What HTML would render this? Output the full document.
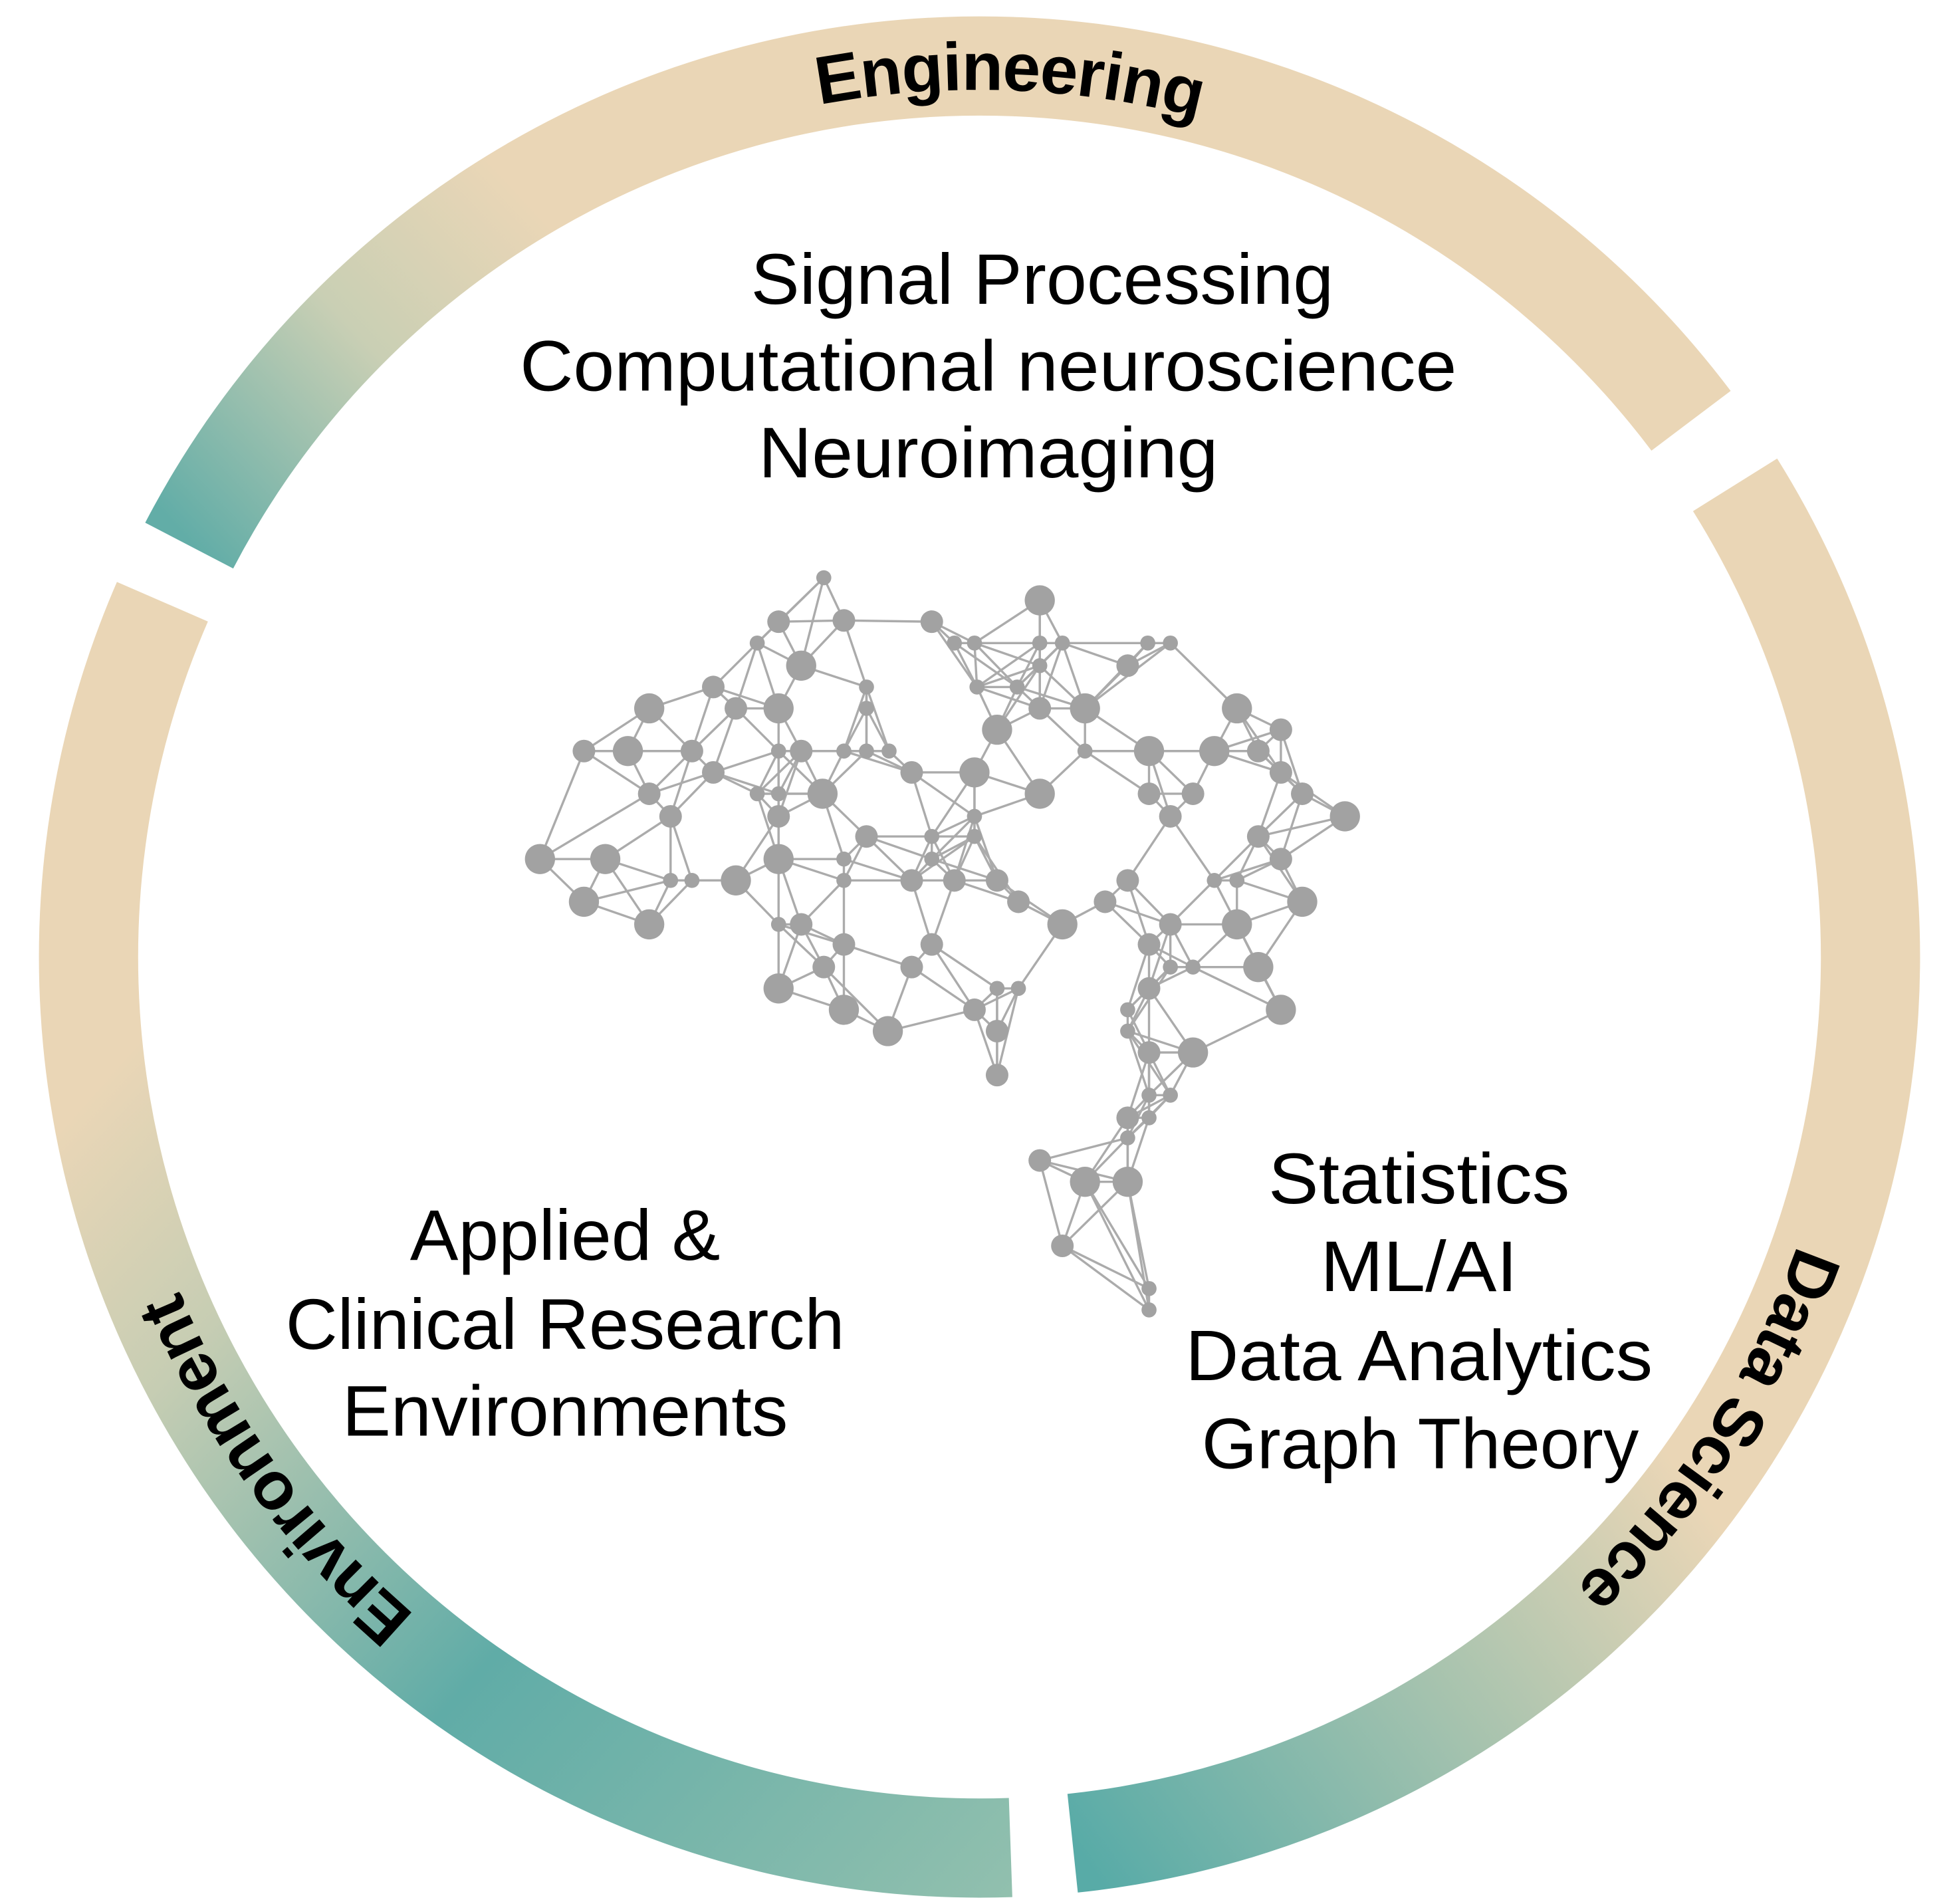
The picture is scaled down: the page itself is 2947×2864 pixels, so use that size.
<!DOCTYPE html>
<html><head><meta charset="utf-8"><style>
html,body{margin:0;padding:0;background:#fff;}
svg{display:block;}
</style></head><body>
<svg id="chart" xmlns="http://www.w3.org/2000/svg" width="2947" height="2864" viewBox="0 0 1560 1516">
<defs>
<linearGradient id="gEng" gradientUnits="userSpaceOnUse" x1="150" y1="430" x2="430" y2="170">
<stop offset="0" stop-color="#62ada7"/><stop offset="0.55" stop-color="#c9cfb4"/><stop offset="1" stop-color="#ead6b6"/></linearGradient>
<linearGradient id="gDS" gradientUnits="userSpaceOnUse" x1="1330" y1="1160" x2="870" y2="1490">
<stop offset="0" stop-color="#ead6b6"/><stop offset="0.4" stop-color="#aec5af"/><stop offset="1" stop-color="#58aba7"/></linearGradient>
<linearGradient id="gEnv" gradientUnits="userSpaceOnUse" x1="90" y1="850" x2="820" y2="1500">
<stop offset="0" stop-color="#ead6b6"/><stop offset="0.2" stop-color="#c6cdb3"/><stop offset="0.55" stop-color="#60aca7"/><stop offset="1" stop-color="#92c0ae"/></linearGradient>
</defs>
<g id="ring"></g>
<g id="network"></g>
<g font-family="Liberation Sans, sans-serif" font-size="57" fill="#000" text-anchor="middle">
<text x="830" y="242" textLength="464" lengthAdjust="spacingAndGlyphs">Signal Processing</text>
<text x="787" y="311" textLength="746" lengthAdjust="spacingAndGlyphs">Computational neuroscience</text>
<text x="787" y="380" textLength="366" lengthAdjust="spacingAndGlyphs">Neuroimaging</text>
<text x="1130" y="958" textLength="240" lengthAdjust="spacingAndGlyphs">Statistics</text>
<text x="1130" y="1028" textLength="157" lengthAdjust="spacingAndGlyphs">ML/AI</text>
<text x="1130" y="1099" textLength="372" lengthAdjust="spacingAndGlyphs">Data Analytics</text>
<text x="1131" y="1169" textLength="348" lengthAdjust="spacingAndGlyphs">Graph Theory</text>
<text x="450" y="1003" textLength="247" lengthAdjust="spacingAndGlyphs">Applied &amp;</text>
<text x="450" y="1074" textLength="445" lengthAdjust="spacingAndGlyphs">Clinical Research</text>
<text x="450" y="1143" textLength="355" lengthAdjust="spacingAndGlyphs">Environments</text>
</g>
</svg>
<script>
const NS='http://www.w3.org/2000/svg';
const segNames=['engineering','data-science','environment'];
const segStart=[207.5,328,88];
const segEnd=[323,444,203.5];
const segFill=['url(#gEng)','url(#gDS)','url(#gEnv)'];
const labelText=['Engineering','Data Science','Environment'];
const labelAngle=[272,33,144];
const cx=780,cy=762,Ro=749,Ri=670,Rm=709;
function pt(r,a){const t=a*Math.PI/180;return [cx+r*Math.cos(t),cy+r*Math.sin(t)];}
const ring=document.getElementById('ring');
for(let i=0;i<3;i++){
  const a0=segStart[i],a1=segEnd[i];const large=(a1-a0)>180?1:0;
  const p0=pt(Ro,a0),p1=pt(Ro,a1),p2=pt(Ri,a1),p3=pt(Ri,a0);
  const p=document.createElementNS(NS,'path');
  p.setAttribute('d',`M${p0} A${Ro},${Ro} 0 ${large} 1 ${p1} L${p2} A${Ri},${Ri} 0 ${large} 0 ${p3} Z`);
  p.setAttribute('fill',segFill[i]);
  
  
  ring.appendChild(p);
  const la=labelAngle[i];const q0=pt(Rm,la-60),q1=pt(Rm,la+60);
  const tp=document.createElementNS(NS,'path');
  tp.setAttribute('id','tp'+i);tp.setAttribute('fill','none');
  tp.setAttribute('d',`M${q0} A${Rm},${Rm} 0 0 1 ${q1}`);
  ring.appendChild(tp);
  const t=document.createElementNS(NS,'text');
  t.setAttribute('font-family','Liberation Sans, sans-serif');
  t.setAttribute('font-weight','bold');t.setAttribute('font-size','54');
  t.setAttribute('dominant-baseline','central');
  
  
  const tpath=document.createElementNS(NS,'textPath');
  tpath.setAttribute('href','#tp'+i);tpath.setAttribute('startOffset','50%');tpath.setAttribute('text-anchor','middle');
  tpath.textContent=labelText[i];t.appendChild(tpath);ring.appendChild(t);
}
// network nodes: x, y, size class (0 small,1 medium,2 large)
const nodeX=[656,828,620,672,742,603,638,760,776,828,846,914,932,690,778,810,828,898,568,517,586,620,690,828,864,985,794,1020,465,500,551,620,638,672,690,708,864,915,967,1002,568,726,776,1020,603,620,655,828,915,950,1037,517,534,620,776,932,1071,690,742,776,1002,430,482,620,672,742,1020,534,551,586,672,726,760,794,898,967,985,465,811,880,1037,517,620,638,846,932,985,672,742,915,656,726,932,950,1002,620,794,811,915,672,776,898,1020,707,794,898,915,950,794,915,932,898,915,898,828,864,898,846,915,915];
const nodeY=[460,478,495,494,495,512,530,512,512,512,512,512,512,547,547,547,530,530,547,564,564,564,564,564,564,564,581,581,598,598,598,598,598,598,598,598,598,598,598,598,615,615,615,615,632,632,632,632,632,632,632,632,650,650,650,650,650,666,666,666,666,684,684,684,684,684,684,701,701,701,701,701,701,701,701,701,701,718,718,718,718,736,736,736,736,736,736,752,752,752,770,770,770,770,770,787,787,787,787,804,804,804,804,821,821,821,838,838,856,872,872,890,890,906,924,941,941,992,1026,1043];
const nodeS=[0,2,1,1,1,0,2,0,0,0,0,0,0,0,0,0,0,1,1,2,1,2,0,1,2,2,2,1,1,2,1,0,1,0,0,0,0,2,2,1,1,1,2,1,0,0,2,2,1,1,1,1,1,1,0,1,2,1,0,0,1,2,2,2,0,0,1,0,0,2,0,1,1,1,1,0,0,2,1,1,2,2,0,1,2,1,2,1,1,1,1,1,0,0,2,2,0,0,1,2,1,0,2,2,1,0,1,2,1,0,0,1,0,0,1,2,2,1,0,0];
const radius=[6,9,12];
const net=document.getElementById('network');
const n=nodeX.length;const seen=new Set();const edges=[];
for(let i=0;i<n;i++){
  const d=[];for(let j=0;j<n;j++){if(j!==i)d.push([Math.hypot(nodeX[i]-nodeX[j],nodeY[i]-nodeY[j]),j]);}
  d.sort((a,b)=>a[0]-b[0]);
  d.forEach((e,k)=>{if(k<4||e[0]<62){const key=Math.min(i,e[1])+'-'+Math.max(i,e[1]);if(!seen.has(key)){seen.add(key);edges.push([i,e[1]]);}}});
}
edges.forEach(e=>{
  const l=document.createElementNS(NS,'line');
  l.setAttribute('x1',nodeX[e[0]]);l.setAttribute('y1',nodeY[e[0]]);
  l.setAttribute('x2',nodeX[e[1]]);l.setAttribute('y2',nodeY[e[1]]);
  l.setAttribute('stroke','#ababab');l.setAttribute('stroke-width','1.8');
  
  
  net.appendChild(l);
});
for(let i=0;i<n;i++){
  const c=document.createElementNS(NS,'circle');
  c.setAttribute('cx',nodeX[i]);c.setAttribute('cy',nodeY[i]);c.setAttribute('r',radius[nodeS[i]]);
  c.setAttribute('fill','#a2a2a2');
  
  
  net.appendChild(c);
}
</script>
</body></html>
